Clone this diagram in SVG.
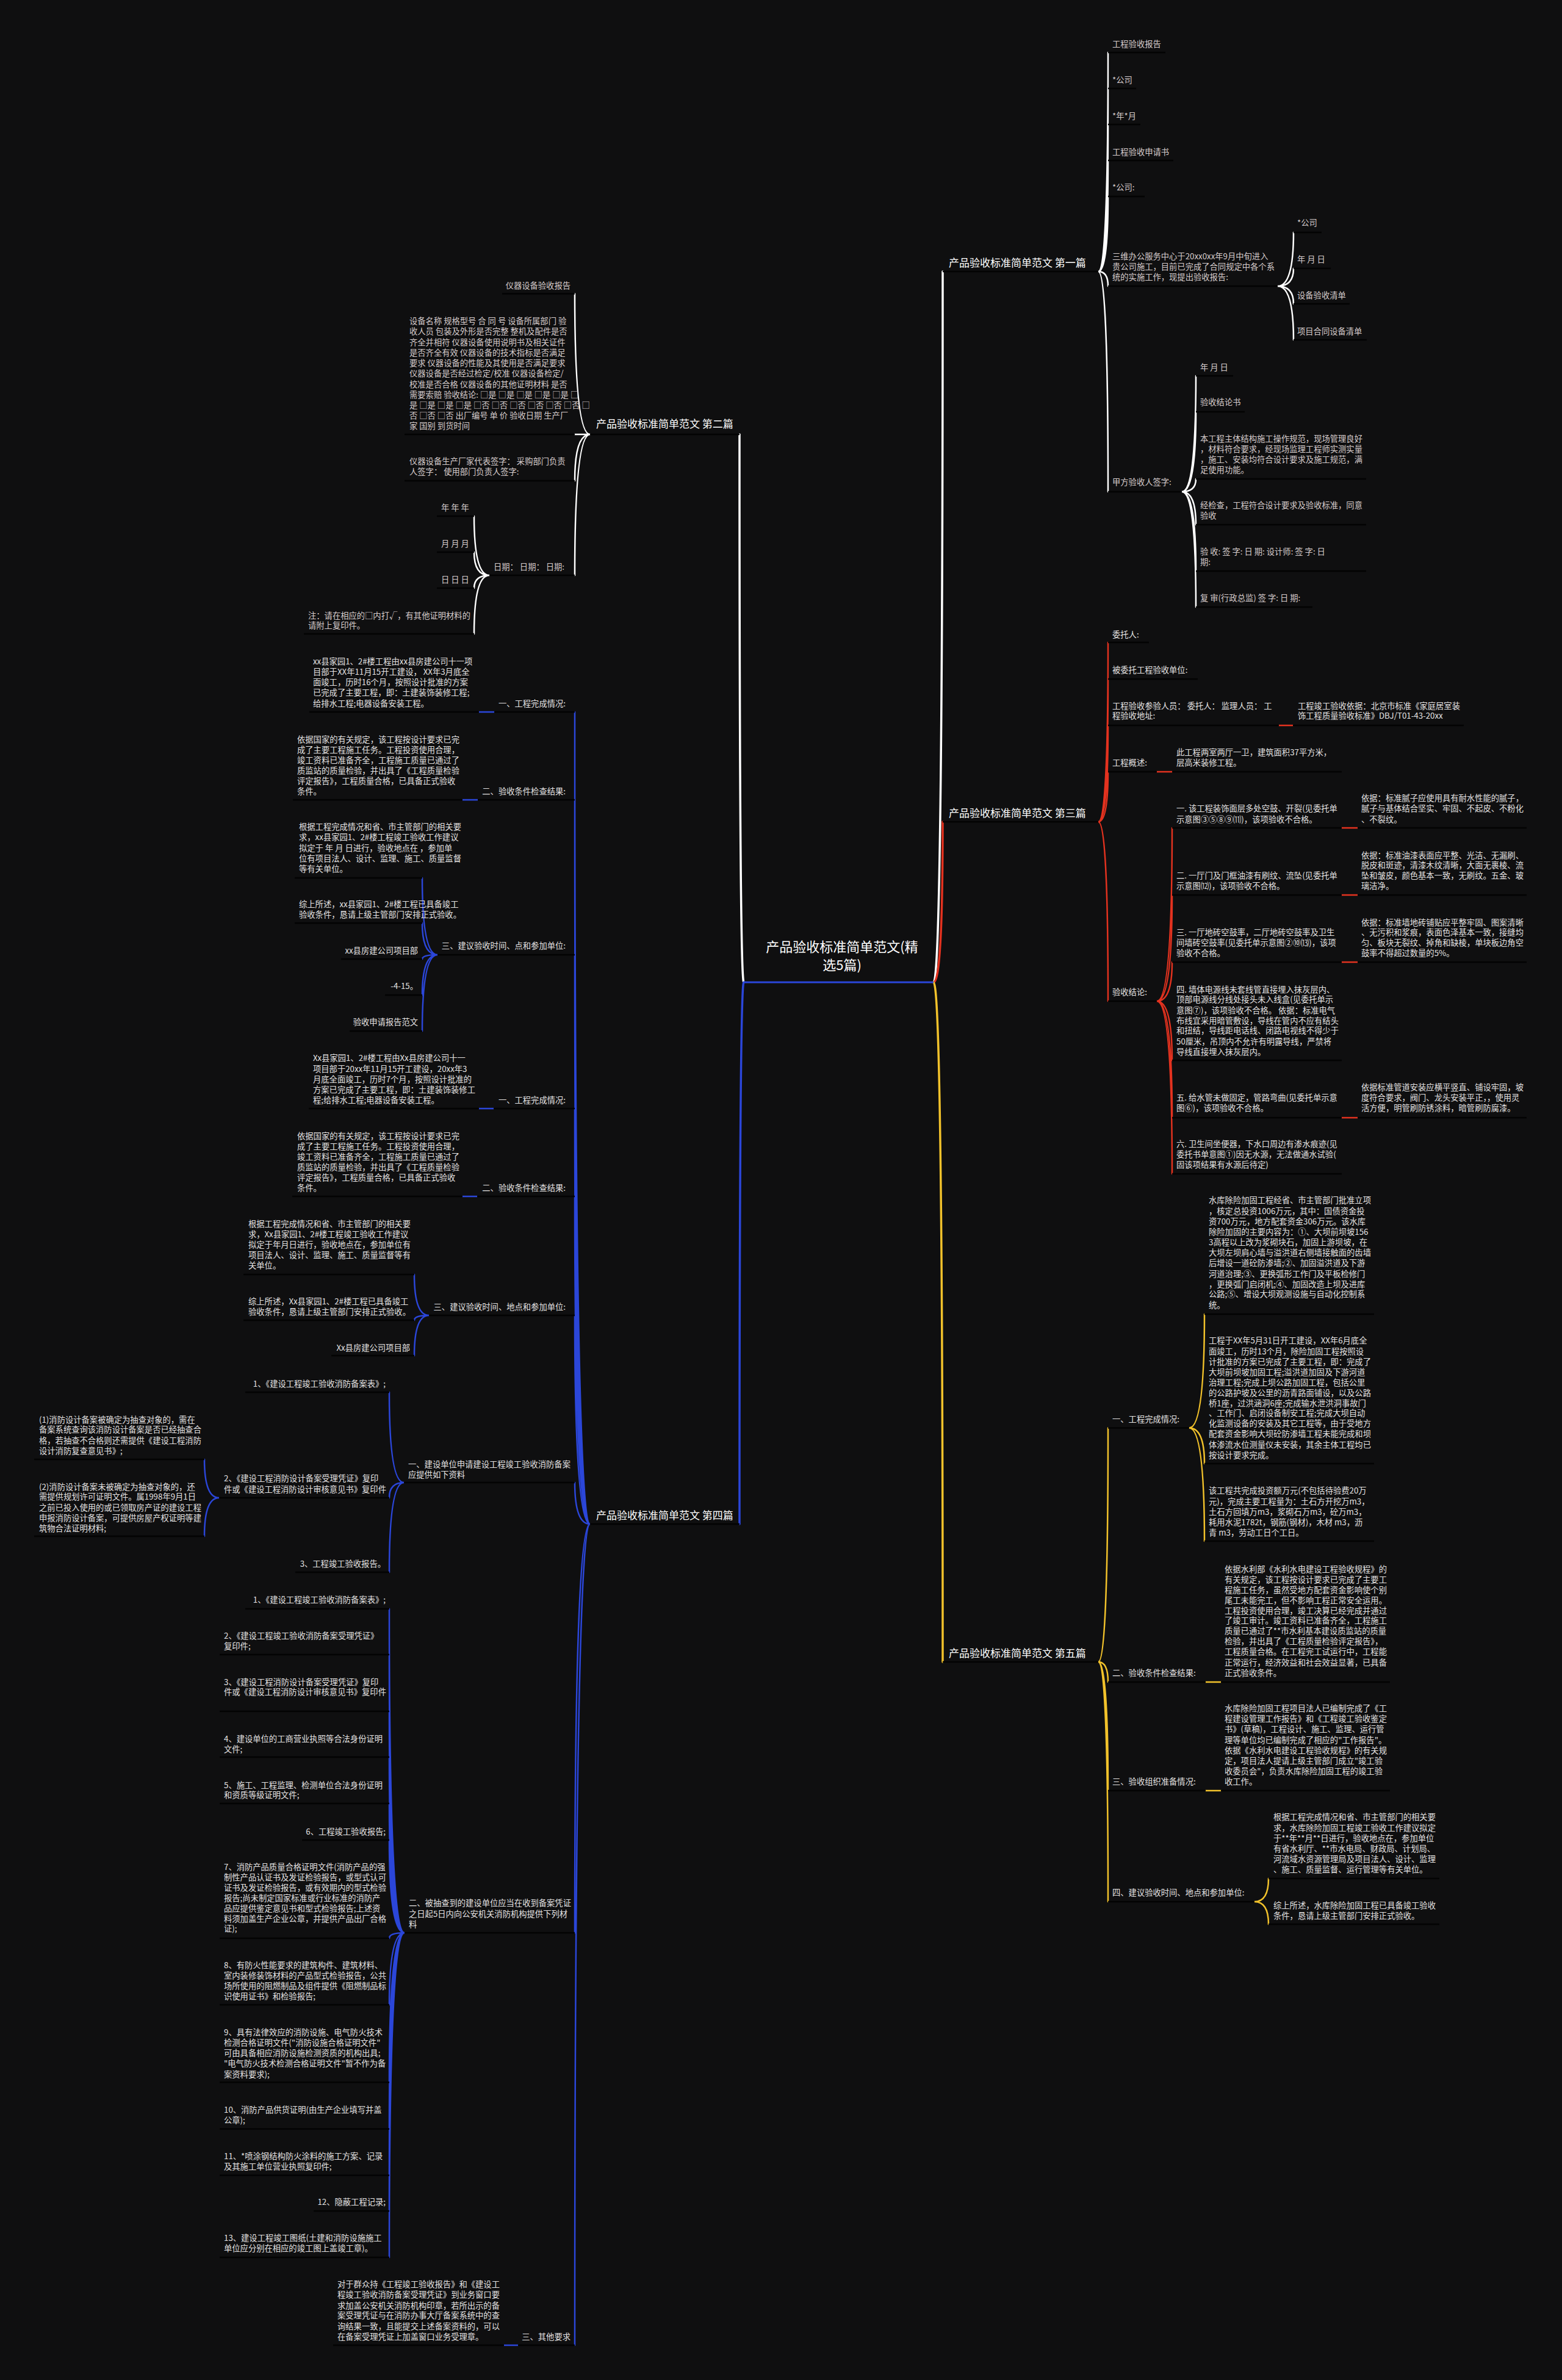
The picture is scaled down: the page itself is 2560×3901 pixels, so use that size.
<svg xmlns="http://www.w3.org/2000/svg" width="2560" height="3901" viewBox="0 0 2560 3901">
<style>
text{font-family:"Noto Sans CJK SC","Noto Sans",sans-serif;font-size:13.3px;fill:#e4e2e2}
.p{fill:#d6cccc}
.l1{font-size:17px;fill:#ffffff}
.title{font-size:22px;fill:#ffffff}
.e{text-anchor:end}
.ul{stroke:#030303;stroke-width:2.5;fill:none}
.c{fill:none;stroke-width:2.5;stroke-linecap:round}
.cw{stroke:#ffffff}.cr{stroke:#e3321f}.cb{stroke:#2b46d9}.cy{stroke:#f2c22b}
.big{stroke-width:3.5}
</style>
<rect width="2560" height="3901" fill="#0f0f10"/>
<g id="connectors">
<path class="c cw big" d="M1530,1610 Q1545,1610 1545,445"/>
<path class="c cr big" d="M1530,1610 Q1545,1610 1545,1347"/>
<path class="c cy big" d="M1530,1610 Q1545,1610 1545,2724"/>
<path class="c cw big" d="M1219,1610 Q1212,1610 1212,712"/>
<path class="c cb big" d="M1219,1610 Q1212,1610 1212,2498"/>
<path class="c cw" d="M1800,445 Q1816,445 1816,86 M1800,445 Q1816,445 1816,145 M1800,445 Q1816,445 1816,204 M1800,445 Q1816,445 1816,263 M1800,445 Q1816,445 1816,322 M1800,445 Q1816,445 1816,469 M1800,445 Q1816,445 1816,806"/>
<path class="c cw" d="M2094,469 Q2120,469 2120,381 M2094,469 Q2120,469 2120,440 M2094,469 Q2120,469 2120,498 M2094,469 Q2120,469 2120,557"/>
<path class="c cw" d="M1937,806 Q1960,806 1960,616 M1937,806 Q1960,806 1960,675 M1937,806 Q1960,806 1960,785 M1937,806 Q1960,806 1960,860 M1937,806 Q1960,806 1960,936 M1937,806 Q1960,806 1960,995"/>
<path class="c cw" d="M967,712 Q942,712 942,481.5 M967,712 L942,712 M967,712 Q942,712 942,788 M967,712 Q942,712 942,943"/>
<path class="c cw" d="M802,943 Q777,943 777,846 M802,943 Q777,943 777,905 M802,943 Q777,943 777,964 M802,943 Q777,943 777,1039"/>
<path class="c cr" d="M1800,1347 Q1816,1347 1816,1053 M1800,1347 Q1816,1347 1816,1113 M1800,1347 Q1816,1347 1816,1189 M1800,1347 Q1816,1347 1816,1265 M1800,1347 Q1816,1347 1816,1641"/>
<path class="c cr" d="M2096,1189 L2119,1189 M1896,1265 L1921,1265"/>
<path class="c cr" d="M1896,1641 Q1921,1641 1921,1357 M1896,1641 Q1921,1641 1921,1467 M1896,1641 Q1921,1641 1921,1577 M1896,1641 Q1921,1641 1921,1738 M1896,1641 Q1921,1641 1921,1832 M1896,1641 Q1921,1641 1921,1924"/>
<path class="c cr" d="M2199,1357 L2225,1357 M2199,1467 L2225,1467 M2199,1577 L2225,1577 M2199,1832 L2225,1832"/>
<path class="c cb" d="M967,2498 Q942,2498 942,1167 M967,2498 Q942,2498 942,1311 M967,2498 Q942,2498 942,1565 M967,2498 Q942,2498 942,1817 M967,2498 Q942,2498 942,1961 M967,2498 Q942,2498 942,2156 M967,2498 Q942,2498 942,2430 M967,2498 Q942,2498 942,3168 M967,2498 Q942,2498 942,3844"/>
<path class="c cb" d="M810,1167 L785,1167 M783,1311 L758,1311 M809,1817 L785,1817 M782,1961 L758,1961 M849,3844 L826,3844"/>
<path class="c cb" d="M717,1565 Q692,1565 692,1439 M717,1565 Q692,1565 692,1513 M717,1565 Q692,1565 692,1572 M717,1565 Q692,1565 692,1631 M717,1565 Q692,1565 692,1690"/>
<path class="c cb" d="M703,2156 Q679,2156 679,2089 M703,2156 Q679,2156 679,2164 M703,2156 Q679,2156 679,2222"/>
<path class="c cb" d="M662,2430 Q638,2430 638,2282 M662,2430 Q638,2430 638,2455 M662,2430 Q638,2430 638,2577"/>
<path class="c cb" d="M359,2455 Q335,2455 335,2392 M359,2455 Q335,2455 335,2518"/>
<path class="c cb" d="M663,3168 Q638,3168 638,2637 M663,3168 Q638,3168 638,2712 M663,3168 Q638,3168 638,2805 M663,3168 Q638,3168 638,2880 M663,3168 Q638,3168 638,2956 M663,3168 Q638,3168 638,3016 M663,3168 Q638,3168 638,3177 M663,3168 Q638,3168 638,3286 M663,3168 Q638,3168 638,3413 M663,3168 Q638,3168 638,3489.5 M663,3168 Q638,3168 638,3565.5 M663,3168 Q638,3168 638,3624 M663,3168 Q638,3168 638,3700"/>
<path class="c cy" d="M1800,2724 Q1816,2724 1816,2340.5 M1800,2724 Q1816,2724 1816,2757 M1800,2724 Q1816,2724 1816,2935 M1800,2724 Q1816,2724 1816,3117"/>
<path class="c cy" d="M1949,2340.5 Q1974,2340.5 1974,2154 M1949,2340.5 Q1974,2340.5 1974,2399 M1949,2340.5 Q1974,2340.5 1974,2526"/>
<path class="c cy" d="M1976,2757 L2001,2757 M1976,2935 L2001,2935"/>
<path class="c cy" d="M2056,3117 Q2079,3117 2079,3079 M2056,3117 Q2079,3117 2079,3154"/>
</g>

<g id="root">
<text class="title" text-anchor="middle"><tspan x="1380" y="1560">产品验收标准简单范文(精</tspan><tspan x="1380" y="1590">选5篇)</tspan></text>
<line x1="1219" y1="1610" x2="1530" y2="1610" stroke="#2b46d9" stroke-width="3"/>
</g>

<!-- Article 1 -->
<g id="p1"><text class="l1" x="1555" y="437">产品验收标准简单范文 第一篇</text><line class="ul" x1="1545" y1="445" x2="1800" y2="445"/></g>
<g id="n1-1"><text class="p" x="1823" y="76.5">工程验收报告</text><line class="ul" x1="1816" y1="86" x2="1910" y2="86"/></g>
<g id="n1-2"><text class="p" x="1823" y="135.5">*公司</text><line class="ul" x1="1816" y1="145" x2="1862" y2="145"/></g>
<g id="n1-3"><text class="p" x="1823" y="194.5">*年*月</text><line class="ul" x1="1816" y1="204" x2="1869" y2="204"/></g>
<g id="n1-4"><text class="p" x="1823" y="253.5">工程验收申请书</text><line class="ul" x1="1816" y1="263" x2="1923" y2="263"/></g>
<g id="n1-5"><text class="p" x="1823" y="311.5">*公司:</text><line class="ul" x1="1816" y1="322" x2="1876" y2="322"/></g>
<g id="n1-6"><text class="p"><tspan x="1823" y="424.5">三维办公服务中心于20xx0xx年9月中旬进入</tspan><tspan x="1823" y="441.5">贵公司施工，目前已完成了合同规定中各个系</tspan><tspan x="1823" y="458.5">统的实施工作，现提出验收报告:</tspan></text><line class="ul" x1="1816" y1="469" x2="2094" y2="469"/></g>
<g id="n1-6a"><text class="p" x="2126" y="369.5">*公司</text><line class="ul" x1="2120" y1="381" x2="2166" y2="381"/></g>
<g id="n1-6b"><text class="p" x="2126" y="429.5">年 月 日</text><line class="ul" x1="2120" y1="440" x2="2181" y2="440"/></g>
<g id="n1-6c"><text class="p" x="2126" y="488.5">设备验收清单</text><line class="ul" x1="2120" y1="498" x2="2212" y2="498"/></g>
<g id="n1-6d"><text class="p" x="2126" y="547.5">项目合同设备清单</text><line class="ul" x1="2120" y1="557" x2="2240" y2="557"/></g>
<g id="n1-7"><text class="p" x="1823" y="794.5">甲方验收人签字:</text><line class="ul" x1="1816" y1="806" x2="1937" y2="806"/></g>
<g id="n1-7a"><text class="p" x="1967" y="606.5">年 月 日</text><line class="ul" x1="1960" y1="616" x2="2021" y2="616"/></g>
<g id="n1-7b"><text class="p" x="1967" y="663.5">验收结论书</text><line class="ul" x1="1960" y1="675" x2="2040" y2="675"/></g>
<g id="n1-7c"><text class="p"><tspan x="1967" y="723.5">本工程主体结构施工操作规范，现场管理良好</tspan><tspan x="1967" y="740.5">，材料符合要求，经现场监理工程师实测实量</tspan><tspan x="1967" y="757.5">，施工、安装均符合设计要求及施工规范，满</tspan><tspan x="1967" y="774.5">足使用功能。</tspan></text><line class="ul" x1="1960" y1="785" x2="2239" y2="785"/></g>
<g id="n1-7d"><text class="p"><tspan x="1967" y="832.5">经检查，工程符合设计要求及验收标准，同意</tspan><tspan x="1967" y="849.5">验收</tspan></text><line class="ul" x1="1960" y1="860" x2="2239" y2="860"/></g>
<g id="n1-7e"><text class="p"><tspan x="1967" y="908.5">验 收: 签 字: 日 期: 设计师: 签 字: 日</tspan><tspan x="1967" y="925.5">期:</tspan></text><line class="ul" x1="1960" y1="936" x2="2239" y2="936"/></g>
<g id="n1-7f"><text class="p" x="1967" y="984.5">复 审(行政总监) 签 字: 日 期:</text><line class="ul" x1="1960" y1="995" x2="2151" y2="995"/></g>

<!-- Article 2 -->
<g id="p2"><text class="l1" x="977" y="701">产品验收标准简单范文 第二篇</text><line class="ul" x1="967" y1="712" x2="1212" y2="712"/></g>
<g id="n2-1"><text class="p e" x="935" y="472.5">仪器设备验收报告</text><line class="ul" x1="823" y1="481.5" x2="942" y2="481.5"/></g>
<g id="n2-2"><text class="p"><tspan x="671" y="530.5">设备名称 规格型号 合 同 号 设备所属部门 验</tspan><tspan x="671" y="548">收人员 包装及外形是否完整 整机及配件是否</tspan><tspan x="671" y="565.5">齐全并相符 仪器设备使用说明书及相关证件</tspan><tspan x="671" y="582.5">是否齐全有效 仪器设备的技术指标是否满足</tspan><tspan x="671" y="600">要求 仪器设备的性能及其使用是否满足要求</tspan><tspan x="671" y="617">仪器设备是否经过检定/校准 仪器设备检定/</tspan><tspan x="671" y="634.5">校准是否合格 仪器设备的其他证明材料 是否</tspan><tspan x="671" y="651.5">需要索赔 验收结论: □是 □是 □是 □是 □是 □</tspan><tspan x="671" y="668.5">是 □是 □是 □是 □否 □否 □否 □否 □否 □否 □</tspan><tspan x="671" y="685.5">否 □否 □否 出厂编号 单 价 验收日期 生产厂</tspan><tspan x="671" y="702.5">家 国别 到货时间</tspan></text><line class="ul" x1="663" y1="712" x2="942" y2="712"/></g>
<g id="n2-3"><text class="p"><tspan x="671" y="760.5">仪器设备生产厂家代表签字： 采购部门负责</tspan><tspan x="671" y="777.5">人签字： 使用部门负责人签字:</tspan></text><line class="ul" x1="663" y1="788" x2="942" y2="788"/></g>
<g id="n2-4"><text class="p" x="809" y="933.5">日期： 日期： 日期:</text><line class="ul" x1="802" y1="943" x2="942" y2="943"/></g>
<g id="n2-4a"><text class="p" x="723" y="836.5">年 年 年</text><line class="ul" x1="716" y1="846" x2="777" y2="846"/></g>
<g id="n2-4b"><text class="p" x="723" y="895.5">月 月 月</text><line class="ul" x1="716" y1="905" x2="777" y2="905"/></g>
<g id="n2-4c"><text class="p" x="723" y="954.5">日 日 日</text><line class="ul" x1="716" y1="964" x2="777" y2="964"/></g>
<g id="n2-4d"><text class="p"><tspan x="505" y="1013.5">注：请在相应的□内打√，有其他证明材料的</tspan><tspan x="505" y="1029.5">请附上复印件。</tspan></text><line class="ul" x1="498" y1="1039" x2="777" y2="1039"/></g>

<!-- Article 3 -->
<g id="p3"><text class="l1" x="1555" y="1339">产品验收标准简单范文 第三篇</text><line class="ul" x1="1545" y1="1347" x2="1800" y2="1347"/></g>
<g id="n3-1"><text x="1823" y="1044.5">委托人:</text><line class="ul" x1="1816" y1="1053" x2="1883" y2="1053"/></g>
<g id="n3-2"><text x="1823" y="1102.5">被委托工程验收单位:</text><line class="ul" x1="1816" y1="1113" x2="1963" y2="1113"/></g>
<g id="n3-3"><text><tspan x="1823" y="1161.5">工程验收参验人员： 委托人： 监理人员： 工</tspan><tspan x="1823" y="1177.5">程验收地址:</tspan></text><line class="ul" x1="1816" y1="1189" x2="2096" y2="1189"/></g>
<g id="n3-3a"><text><tspan x="2127" y="1161.5">工程竣工验收依据：北京市标准《家庭居室装</tspan><tspan x="2127" y="1177.5">饰工程质量验收标准》DBJ/T01-43-20xx</tspan></text><line class="ul" x1="2119" y1="1189" x2="2399" y2="1189"/></g>
<g id="n3-4"><text x="1823" y="1254.5">工程概述:</text><line class="ul" x1="1816" y1="1265" x2="1896" y2="1265"/></g>
<g id="n3-4a"><text><tspan x="1928" y="1237.5">此工程两室两厅一卫，建筑面积37平方米，</tspan><tspan x="1928" y="1254.5">层高米装修工程。</tspan></text><line class="ul" x1="1921" y1="1265" x2="2199" y2="1265"/></g>
<g id="n3-5"><text x="1823" y="1630.5">验收结论:</text><line class="ul" x1="1816" y1="1641" x2="1896" y2="1641"/></g>
<g id="n3-5-1"><text><tspan x="1928" y="1329.5">一. 该工程装饰面层多处空鼓、开裂(见委托单</tspan><tspan x="1928" y="1347.5">示意图③⑤⑧⑨⑾)，该项验收不合格。</tspan></text><line class="ul" x1="1921" y1="1357" x2="2199" y2="1357"/></g>
<g id="n3-5-1a"><text><tspan x="2231" y="1312.5">依据：标准腻子应使用具有耐水性能的腻子，</tspan><tspan x="2231" y="1329.5">腻子与基体结合坚实、牢固、不起皮、不粉化</tspan><tspan x="2231" y="1347.5">、不裂纹。</tspan></text><line class="ul" x1="2225" y1="1357" x2="2502" y2="1357"/></g>
<g id="n3-5-2"><text><tspan x="1928" y="1439.5">二. 一厅门及门框油漆有刷纹、流坠(见委托单</tspan><tspan x="1928" y="1456.5">示意图⑿)，该项验收不合格。</tspan></text><line class="ul" x1="1921" y1="1467" x2="2199" y2="1467"/></g>
<g id="n3-5-2a"><text><tspan x="2231" y="1406.5">依据：标准油漆表面应平整、光洁、无漏刷、</tspan><tspan x="2231" y="1422.5">脱皮和斑迹，清漆木纹清晰，大面无裹棱、流</tspan><tspan x="2231" y="1439.5">坠和皱皮，颜色基本一致，无刷纹。五金、玻</tspan><tspan x="2231" y="1456.5">璃洁净。</tspan></text><line class="ul" x1="2225" y1="1467" x2="2502" y2="1467"/></g>
<g id="n3-5-3"><text><tspan x="1928" y="1532.5">三. 一厅地砖空鼓率，二厅地砖空鼓率及卫生</tspan><tspan x="1928" y="1549.5">间墙砖空鼓率(见委托单示意图②⑩⒀)，该项</tspan><tspan x="1928" y="1566.5">验收不合格。</tspan></text><line class="ul" x1="1921" y1="1577" x2="2199" y2="1577"/></g>
<g id="n3-5-3a"><text><tspan x="2231" y="1516.5">依据：标准墙地砖铺贴应平整牢固、图案清晰</tspan><tspan x="2231" y="1532.5">、无污积和浆痕，表面色泽基本一致，接缝均</tspan><tspan x="2231" y="1549.5">匀、板块无裂纹、掉角和缺棱，单块板边角空</tspan><tspan x="2231" y="1566.5">鼓率不得超过数量的5%。</tspan></text><line class="ul" x1="2225" y1="1577" x2="2502" y2="1577"/></g>
<g id="n3-5-4"><text><tspan x="1928" y="1626.5">四. 墙体电源线未套线管直接埋入抹灰层内、</tspan><tspan x="1928" y="1642.5">顶部电源线分线处接头未入线盒(见委托单示</tspan><tspan x="1928" y="1660.5">意图⑦)，该项验收不合格。 依据：标准电气</tspan><tspan x="1928" y="1677.5">布线宜采用暗管敷设，导线在管内不应有结头</tspan><tspan x="1928" y="1693.5">和扭结，导线距电话线、闭路电视线不得少于</tspan><tspan x="1928" y="1711.5">50厘米，吊顶内不允许有明露导线，严禁将</tspan><tspan x="1928" y="1728.5">导线直接埋入抹灰层内。</tspan></text><line class="ul" x1="1921" y1="1738" x2="2199" y2="1738"/></g>
<g id="n3-5-5"><text><tspan x="1928" y="1803.5">五. 给水管未做固定，管路弯曲(见委托单示意</tspan><tspan x="1928" y="1820.5">图⑥)，该项验收不合格。</tspan></text><line class="ul" x1="1921" y1="1832" x2="2199" y2="1832"/></g>
<g id="n3-5-5a"><text><tspan x="2231" y="1786.5">依据标准管道安装应横平竖直、铺设牢固，坡</tspan><tspan x="2231" y="1803.5">度符合要求，阀门、龙头安装平正，，使用灵</tspan><tspan x="2231" y="1820.5">活方便，明管刷防锈涂料，暗管刷防腐漆。</tspan></text><line class="ul" x1="2225" y1="1832" x2="2502" y2="1832"/></g>
<g id="n3-5-6"><text><tspan x="1928" y="1879.5">六. 卫生间坐便器，下水口周边有渗水痕迹(见</tspan><tspan x="1928" y="1896.5">委托书单意图①)因无水源，无法做通水试验(</tspan><tspan x="1928" y="1913.5">固该项结果有水源后待定)</tspan></text><line class="ul" x1="1921" y1="1924" x2="2199" y2="1924"/></g>

<!-- Article 4 -->
<g id="p4"><text class="l1" x="977" y="2490">产品验收标准简单范文 第四篇</text><line class="ul" x1="967" y1="2498" x2="1212" y2="2498"/></g>
<g id="n4-1"><text class="e" x="927" y="1157.5">一、工程完成情况:</text><line class="ul" x1="810" y1="1167" x2="942" y2="1167"/></g>
<g id="n4-1a"><text><tspan x="513" y="1089">xx县家园1、2#楼工程由xx县房建公司十一项</tspan><tspan x="513" y="1106">目部于XX年11月15开工建设， XX年3月底全</tspan><tspan x="513" y="1123">面竣工，历时16个月，按照设计批准的方案</tspan><tspan x="513" y="1140">已完成了主要工程，即：土建装饰装修工程;</tspan><tspan x="513" y="1157.5">给排水工程;电器设备安装工程。</tspan></text><line class="ul" x1="507" y1="1167" x2="785" y2="1167"/></g>
<g id="n4-2"><text class="e" x="927" y="1301.5">二、验收条件检查结果:</text><line class="ul" x1="783" y1="1311" x2="942" y2="1311"/></g>
<g id="n4-2a"><text><tspan x="487" y="1216.5">依据国家的有关规定，该工程按设计要求已完</tspan><tspan x="487" y="1233.5">成了主要工程施工任务。工程投资使用合理，</tspan><tspan x="487" y="1250.5">竣工资料已准备齐全，工程施工质量已通过了</tspan><tspan x="487" y="1267.5">质监站的质量检验，并出具了《工程质量检验</tspan><tspan x="487" y="1284.5">评定报告》，工程质量合格，已具备正式验收</tspan><tspan x="487" y="1301.5">条件。</tspan></text><line class="ul" x1="480" y1="1311" x2="758" y2="1311"/></g>
<g id="n4-3"><text class="e" x="927" y="1554.5">三、建议验收时间、点和参加单位:</text><line class="ul" x1="717" y1="1565" x2="942" y2="1565"/></g>
<g id="n4-3a"><text><tspan x="490" y="1359.5">根据工程完成情况和省、市主管部门的相关要</tspan><tspan x="490" y="1376.5">求，xx县家园1、2#楼工程竣工验收工作建议</tspan><tspan x="490" y="1394.5">拟定于 年 月 日进行，验收地点在 ，参加单</tspan><tspan x="490" y="1411.5">位有项目法人、设计、监理、施工、质量监督</tspan><tspan x="490" y="1428.5">等有关单位。</tspan></text><line class="ul" x1="483" y1="1439" x2="692" y2="1439"/></g>
<g id="n4-3b"><text><tspan x="490" y="1487">综上所述，xx县家园1、2#楼工程已具备竣工</tspan><tspan x="490" y="1504">验收条件，恳请上级主管部门安排正式验收。</tspan></text><line class="ul" x1="483" y1="1513" x2="692" y2="1513"/></g>
<g id="n4-3c"><text class="e" x="685" y="1562.5">xx县房建公司项目部</text><line class="ul" x1="559" y1="1572" x2="692" y2="1572"/></g>
<g id="n4-3d"><text class="e" x="685" y="1620.5">-4-15。</text><line class="ul" x1="631" y1="1631" x2="692" y2="1631"/></g>
<g id="n4-3e"><text class="e" x="685" y="1680">验收申请报告范文</text><line class="ul" x1="573" y1="1690" x2="692" y2="1690"/></g>
<g id="n4-4"><text class="e" x="927" y="1808">一、工程完成情况:</text><line class="ul" x1="809" y1="1817" x2="942" y2="1817"/></g>
<g id="n4-4a"><text><tspan x="513" y="1739">Xx县家园1、2#楼工程由Xx县房建公司十一</tspan><tspan x="513" y="1756.5">项目部于20xx年11月15开工建设，20xx年3</tspan><tspan x="513" y="1773.5">月底全面竣工，历时7个月，按照设计批准的</tspan><tspan x="513" y="1790.5">方案已完成了主要工程，即：土建装饰装修工</tspan><tspan x="513" y="1808">程;给排水工程;电器设备安装工程。</tspan></text><line class="ul" x1="506" y1="1817" x2="785" y2="1817"/></g>
<g id="n4-5"><text class="e" x="927" y="1951.5">二、验收条件检查结果:</text><line class="ul" x1="782" y1="1961" x2="942" y2="1961"/></g>
<g id="n4-5a"><text><tspan x="487" y="1867">依据国家的有关规定，该工程按设计要求已完</tspan><tspan x="487" y="1884">成了主要工程施工任务。工程投资使用合理，</tspan><tspan x="487" y="1901">竣工资料已准备齐全，工程施工质量已通过了</tspan><tspan x="487" y="1918">质监站的质量检验，并出具了《工程质量检验</tspan><tspan x="487" y="1935">评定报告》，工程质量合格，已具备正式验收</tspan><tspan x="487" y="1951.5">条件。</tspan></text><line class="ul" x1="479" y1="1961" x2="758" y2="1961"/></g>
<g id="n4-6"><text class="e" x="927" y="2146.5">三、建议验收时间、地点和参加单位:</text><line class="ul" x1="703" y1="2156" x2="942" y2="2156"/></g>
<g id="n4-6a"><text><tspan x="407" y="2010.5">根据工程完成情况和省、市主管部门的相关要</tspan><tspan x="407" y="2027.5">求，Xx县家园1、2#楼工程竣工验收工作建议</tspan><tspan x="407" y="2044.5">拟定于年月日进行，验收地点在，参加单位有</tspan><tspan x="407" y="2061.5">项目法人、设计、监理、施工、质量监督等有</tspan><tspan x="407" y="2078.5">关单位。</tspan></text><line class="ul" x1="399" y1="2089" x2="679" y2="2089"/></g>
<g id="n4-6b"><text><tspan x="407" y="2137.5">综上所述，Xx县家园1、2#楼工程已具备竣工</tspan><tspan x="407" y="2154.5">验收条件，恳请上级主管部门安排正式验收。</tspan></text><line class="ul" x1="399" y1="2164" x2="679" y2="2164"/></g>
<g id="n4-6c"><text class="e" x="672" y="2213.5">Xx县房建公司项目部</text><line class="ul" x1="543" y1="2222" x2="679" y2="2222"/></g>
<g id="n4-7"><text><tspan x="669" y="2404.5">一、建设单位申请建设工程竣工验收消防备案</tspan><tspan x="669" y="2421.5">应提供如下资料</tspan></text><line class="ul" x1="662" y1="2430" x2="942" y2="2430"/></g>
<g id="n4-7a"><text class="e" x="632" y="2272.5">1、《建设工程竣工验收消防备案表》;</text><line class="ul" x1="402" y1="2282" x2="638" y2="2282"/></g>
<g id="n4-7b"><text><tspan x="367" y="2427.5">2、《建设工程消防设计备案受理凭证》复印</tspan><tspan x="367" y="2445.5">件或《建设工程消防设计审核意见书》复印件</tspan></text><line class="ul" x1="359" y1="2455" x2="638" y2="2455"/></g>
<g id="n4-7b1"><text><tspan x="64" y="2331.5">(1)消防设计备案被确定为抽查对象的，需在</tspan><tspan x="64" y="2348">备案系统查询该消防设计备案是否已经抽查合</tspan><tspan x="64" y="2365.5">格，若抽查不合格则还需提供《建设工程消防</tspan><tspan x="64" y="2382.5">设计消防复查意见书》;</tspan></text><line class="ul" x1="56" y1="2392" x2="335" y2="2392"/></g>
<g id="n4-7b2"><text><tspan x="64" y="2441.5">(2)消防设计备案未被确定为抽查对象的，还</tspan><tspan x="64" y="2458">需提供规划许可证明文件。属1998年9月1日</tspan><tspan x="64" y="2475.5">之前已投入使用的或已领取房产证的建设工程</tspan><tspan x="64" y="2492.5">申报消防设计备案，可提供房屋产权证明等建</tspan><tspan x="64" y="2509.5">筑物合法证明材料;</tspan></text><line class="ul" x1="56" y1="2518" x2="335" y2="2518"/></g>
<g id="n4-7c"><text class="e" x="632" y="2567.5">3、工程竣工验收报告。</text><line class="ul" x1="484" y1="2577" x2="638" y2="2577"/></g>
<g id="n4-8"><text><tspan x="670" y="3124">二、被抽查到的建设单位应当在收到备案凭证</tspan><tspan x="670" y="3141.5">之日起5日内向公安机关消防机构提供下列材</tspan><tspan x="670" y="3158.5">料</tspan></text><line class="ul" x1="663" y1="3168" x2="942" y2="3168"/></g>
<g id="n4-8-1"><text class="e" x="632" y="2626.5">1、《建设工程竣工验收消防备案表》;</text><line class="ul" x1="402" y1="2637" x2="638" y2="2637"/></g>
<g id="n4-8-2"><text><tspan x="367" y="2685.5">2、《建设工程竣工验收消防备案受理凭证》</tspan><tspan x="367" y="2702.5">复印件;</tspan></text><line class="ul" x1="360" y1="2712" x2="638" y2="2712"/></g>
<g id="n4-8-3"><text><tspan x="367" y="2761.5">3、《建设工程消防设计备案受理凭证》复印</tspan><tspan x="367" y="2778">件或《建设工程消防设计审核意见书》复印件</tspan></text><line class="ul" x1="360" y1="2805" x2="638" y2="2805"/></g>
<g id="n4-8-4"><text><tspan x="367" y="2854.5">4、建设单位的工商营业执照等合法身份证明</tspan><tspan x="367" y="2871.5">文件;</tspan></text><line class="ul" x1="360" y1="2880" x2="638" y2="2880"/></g>
<g id="n4-8-5"><text><tspan x="367" y="2930.5">5、施工、工程监理、检测单位合法身份证明</tspan><tspan x="367" y="2946.5">和资质等级证明文件;</tspan></text><line class="ul" x1="360" y1="2956" x2="638" y2="2956"/></g>
<g id="n4-8-6"><text class="e" x="632" y="3006.5">6、工程竣工验收报告;</text><line class="ul" x1="495" y1="3016" x2="638" y2="3016"/></g>
<g id="n4-8-7"><text><tspan x="367" y="3064.5">7、消防产品质量合格证明文件(消防产品的强</tspan><tspan x="367" y="3081.5">制性产品认证书及发证检验报告，或型式认可</tspan><tspan x="367" y="3098.5">证书及发证检验报告，或有效期内的型式检验</tspan><tspan x="367" y="3115.5">报告;尚未制定国家标准或行业标准的消防产</tspan><tspan x="367" y="3132.5">品应提供鉴定意见书和型式检验报告;上述资</tspan><tspan x="367" y="3149.5">料须加盖生产企业公章，并提供产品出厂合格</tspan><tspan x="367" y="3165.5">证);</tspan></text><line class="ul" x1="360" y1="3177" x2="638" y2="3177"/></g>
<g id="n4-8-8"><text><tspan x="367" y="3226">8、有防火性能要求的建筑构件、建筑材料、</tspan><tspan x="367" y="3242.5">室内装修装饰材料的产品型式检验报告，公共</tspan><tspan x="367" y="3259.5">场所使用的阻燃制品及组件提供《阻燃制品标</tspan><tspan x="367" y="3276.5">识使用证书》和检验报告;</tspan></text><line class="ul" x1="360" y1="3286" x2="638" y2="3286"/></g>
<g id="n4-8-9"><text><tspan x="367" y="3335.5">9、具有法律效应的消防设施、电气防火技术</tspan><tspan x="367" y="3352.5">检测合格证明文件("消防设施合格证明文件"</tspan><tspan x="367" y="3370">可由具备相应消防设施检测资质的机构出具;</tspan><tspan x="367" y="3386.5">"电气防火技术检测合格证明文件"暂不作为备</tspan><tspan x="367" y="3404.5">案资料要求);</tspan></text><line class="ul" x1="360" y1="3413" x2="638" y2="3413"/></g>
<g id="n4-8-10"><text><tspan x="367" y="3462.5">10、消防产品供货证明(由生产企业填写并盖</tspan><tspan x="367" y="3479.5">公章);</tspan></text><line class="ul" x1="360" y1="3489.5" x2="638" y2="3489.5"/></g>
<g id="n4-8-11"><text><tspan x="367" y="3538.5">11、*喷涂钢结构防火涂料的施工方案、记录</tspan><tspan x="367" y="3555.5">及其施工单位营业执照复印件;</tspan></text><line class="ul" x1="360" y1="3565.5" x2="638" y2="3565.5"/></g>
<g id="n4-8-12"><text class="e" x="632" y="3613.5">12、隐蔽工程记录;</text><line class="ul" x1="514" y1="3624" x2="638" y2="3624"/></g>
<g id="n4-8-13"><text><tspan x="367" y="3672.5">13、建设工程竣工图纸(土建和消防设施施工</tspan><tspan x="367" y="3689.5">单位应分别在相应的竣工图上盖竣工章)。</tspan></text><line class="ul" x1="360" y1="3700" x2="638" y2="3700"/></g>
<g id="n4-9"><text class="e" x="935" y="3834.5">三、其他要求</text><line class="ul" x1="849" y1="3844" x2="942" y2="3844"/></g>
<g id="n4-9a"><text><tspan x="553" y="3749">对于群众持《工程竣工验收报告》和《建设工</tspan><tspan x="553" y="3765.5">程竣工验收消防备案受理凭证》到业务窗口要</tspan><tspan x="553" y="3783.5">求加盖公安机关消防机构印章，若所出示的备</tspan><tspan x="553" y="3800">案受理凭证与在消防办事大厅备案系统中的查</tspan><tspan x="553" y="3817.5">询结果一致，且能提交上述备案资料的，可以</tspan><tspan x="553" y="3834.5">在备案受理凭证上加盖窗口业务受理章。</tspan></text><line class="ul" x1="546" y1="3844" x2="826" y2="3844"/></g>

<!-- Article 5 -->
<g id="p5"><text class="l1" x="1555" y="2716">产品验收标准简单范文 第五篇</text><line class="ul" x1="1545" y1="2724" x2="1800" y2="2724"/></g>
<g id="n5-1"><text x="1823" y="2331">一、工程完成情况:</text><line class="ul" x1="1816" y1="2340.5" x2="1949" y2="2340.5"/></g>
<g id="n5-1a"><text><tspan x="1981" y="1971.5">水库除险加固工程经省、市主管部门批准立项</tspan><tspan x="1981" y="1989.5">，核定总投资1006万元，其中：国债资金投</tspan><tspan x="1981" y="2006.5">资700万元，地方配套资金306万元。该水库</tspan><tspan x="1981" y="2024">除险加固的主要内容为：①、大坝前坝坡156</tspan><tspan x="1981" y="2040.5">3高程以上改为浆砌块石，加固上游坝坡，在</tspan><tspan x="1981" y="2057.5">大坝左坝肩心墙与溢洪道右侧墙接触面的齿墙</tspan><tspan x="1981" y="2074.5">后增设一道砼防渗墙;②、加固溢洪道及下游</tspan><tspan x="1981" y="2092.5">河道治理;③、更换弧形工作门及平板检修门</tspan><tspan x="1981" y="2109.5">，更换弧门启闭机;④、加固改造上坝及进库</tspan><tspan x="1981" y="2126">公路;⑤、增设大坝观测设施与自动化控制系</tspan><tspan x="1981" y="2143.5">统。</tspan></text><line class="ul" x1="1974" y1="2154" x2="2252" y2="2154"/></g>
<g id="n5-1b"><text><tspan x="1981" y="2202">工程于XX年5月31日开工建设，XX年6月底全</tspan><tspan x="1981" y="2219.5">面竣工，历时13个月，除险加固工程按照设</tspan><tspan x="1981" y="2236.5">计批准的方案已完成了主要工程，即：完成了</tspan><tspan x="1981" y="2253.5">大坝前坝坡加固工程;溢洪道加固及下游河道</tspan><tspan x="1981" y="2270.5">治理工程;完成上坝公路加固工程，包括公里</tspan><tspan x="1981" y="2287.5">的公路护坡及公里的沥青路面铺设，以及公路</tspan><tspan x="1981" y="2304.5">桥1座，过洪涵洞6座;完成输水泄洪洞事故门</tspan><tspan x="1981" y="2321">、工作门、启闭设备制安工程;完成大坝自动</tspan><tspan x="1981" y="2338">化监测设备的安装及其它工程等，由于受地方</tspan><tspan x="1981" y="2354.5">配套资金影响大坝砼防渗墙工程未能完成和坝</tspan><tspan x="1981" y="2372.5">体渗流水位测量仪未安装，其余主体工程均已</tspan><tspan x="1981" y="2389.5">按设计要求完成。</tspan></text><line class="ul" x1="1974" y1="2399" x2="2252" y2="2399"/></g>
<g id="n5-1c"><text><tspan x="1981" y="2447.5">该工程共完成投资额万元(不包括待验费20万</tspan><tspan x="1981" y="2465.5">元)，完成主要工程量为：土石方开挖万m3，</tspan><tspan x="1981" y="2482.5">土石方回填万m3，浆砌石万m3，砼万m3，</tspan><tspan x="1981" y="2499.5">耗用水泥1782t，钢筋(钢材)，木材 m3，沥</tspan><tspan x="1981" y="2516.5">青 m3，劳动工日个工日。</tspan></text><line class="ul" x1="1974" y1="2526" x2="2252" y2="2526"/></g>
<g id="n5-2"><text x="1823" y="2746.5">二、验收条件检查结果:</text><line class="ul" x1="1816" y1="2757" x2="1976" y2="2757"/></g>
<g id="n5-2a"><text><tspan x="2007" y="2576.5">依据水利部《水利水电建设工程验收规程》的</tspan><tspan x="2007" y="2593.5">有关规定，该工程按设计要求已完成了主要工</tspan><tspan x="2007" y="2610.5">程施工任务，虽然受地方配套资金影响使个别</tspan><tspan x="2007" y="2627.5">尾工未能完工，但不影响工程正常安全运用。</tspan><tspan x="2007" y="2644.5">工程投资使用合理，竣工决算已经完成并通过</tspan><tspan x="2007" y="2660.5">了竣工审计。竣工资料已准备齐全，工程施工</tspan><tspan x="2007" y="2677.5">质量已通过了**市水利基本建设质监站的质量</tspan><tspan x="2007" y="2694.5">检验，并出具了《工程质量检验评定报告》，</tspan><tspan x="2007" y="2711.5">工程质量合格。在工程完工试运行中，工程能</tspan><tspan x="2007" y="2729.5">正常运行，经济效益和社会效益显著，已具备</tspan><tspan x="2007" y="2746.5">正式验收条件。</tspan></text><line class="ul" x1="2001" y1="2757" x2="2278" y2="2757"/></g>
<g id="n5-3"><text x="1823" y="2924.5">三、验收组织准备情况:</text><line class="ul" x1="1816" y1="2935" x2="1976" y2="2935"/></g>
<g id="n5-3a"><text><tspan x="2007" y="2804.5">水库除险加固工程项目法人已编制完成了《工</tspan><tspan x="2007" y="2821.5">程建设管理工作报告》和《工程竣工验收鉴定</tspan><tspan x="2007" y="2838.5">书》(草稿)，工程设计、施工、监理、运行管</tspan><tspan x="2007" y="2856.5">理等单位均已编制完成了相应的"工作报告"。</tspan><tspan x="2007" y="2873.5">依据《水利水电建设工程验收规程》的有关规</tspan><tspan x="2007" y="2890.5">定，项目法人提请上级主管部门成立"竣工验</tspan><tspan x="2007" y="2907.5">收委员会"，负责水库除险加固工程的竣工验</tspan><tspan x="2007" y="2924.5">收工作。</tspan></text><line class="ul" x1="2001" y1="2935" x2="2278" y2="2935"/></g>
<g id="n5-4"><text x="1823" y="3106.5">四、建议验收时间、地点和参加单位:</text><line class="ul" x1="1816" y1="3117" x2="2056" y2="3117"/></g>
<g id="n5-4a"><text><tspan x="2087" y="2982.5">根据工程完成情况和省、市主管部门的相关要</tspan><tspan x="2087" y="3000.5">求，水库除险加固工程竣工验收工作建议拟定</tspan><tspan x="2087" y="3017.5">于**年**月**日进行，验收地点在，参加单位</tspan><tspan x="2087" y="3034.5">有省水利厅、**市水电局、财政局、计划局、</tspan><tspan x="2087" y="3051.5">河流域水资源管理局及项目法人、设计、监理</tspan><tspan x="2087" y="3068.5">、施工、质量监督、运行管理等有关单位。</tspan></text><line class="ul" x1="2079" y1="3079" x2="2359" y2="3079"/></g>
<g id="n5-4b"><text><tspan x="2087" y="3127.5">综上所述，水库除险加固工程已具备竣工验收</tspan><tspan x="2087" y="3144.5">条件，恳请上级主管部门安排正式验收。</tspan></text><line class="ul" x1="2079" y1="3154" x2="2359" y2="3154"/></g>
</svg>
